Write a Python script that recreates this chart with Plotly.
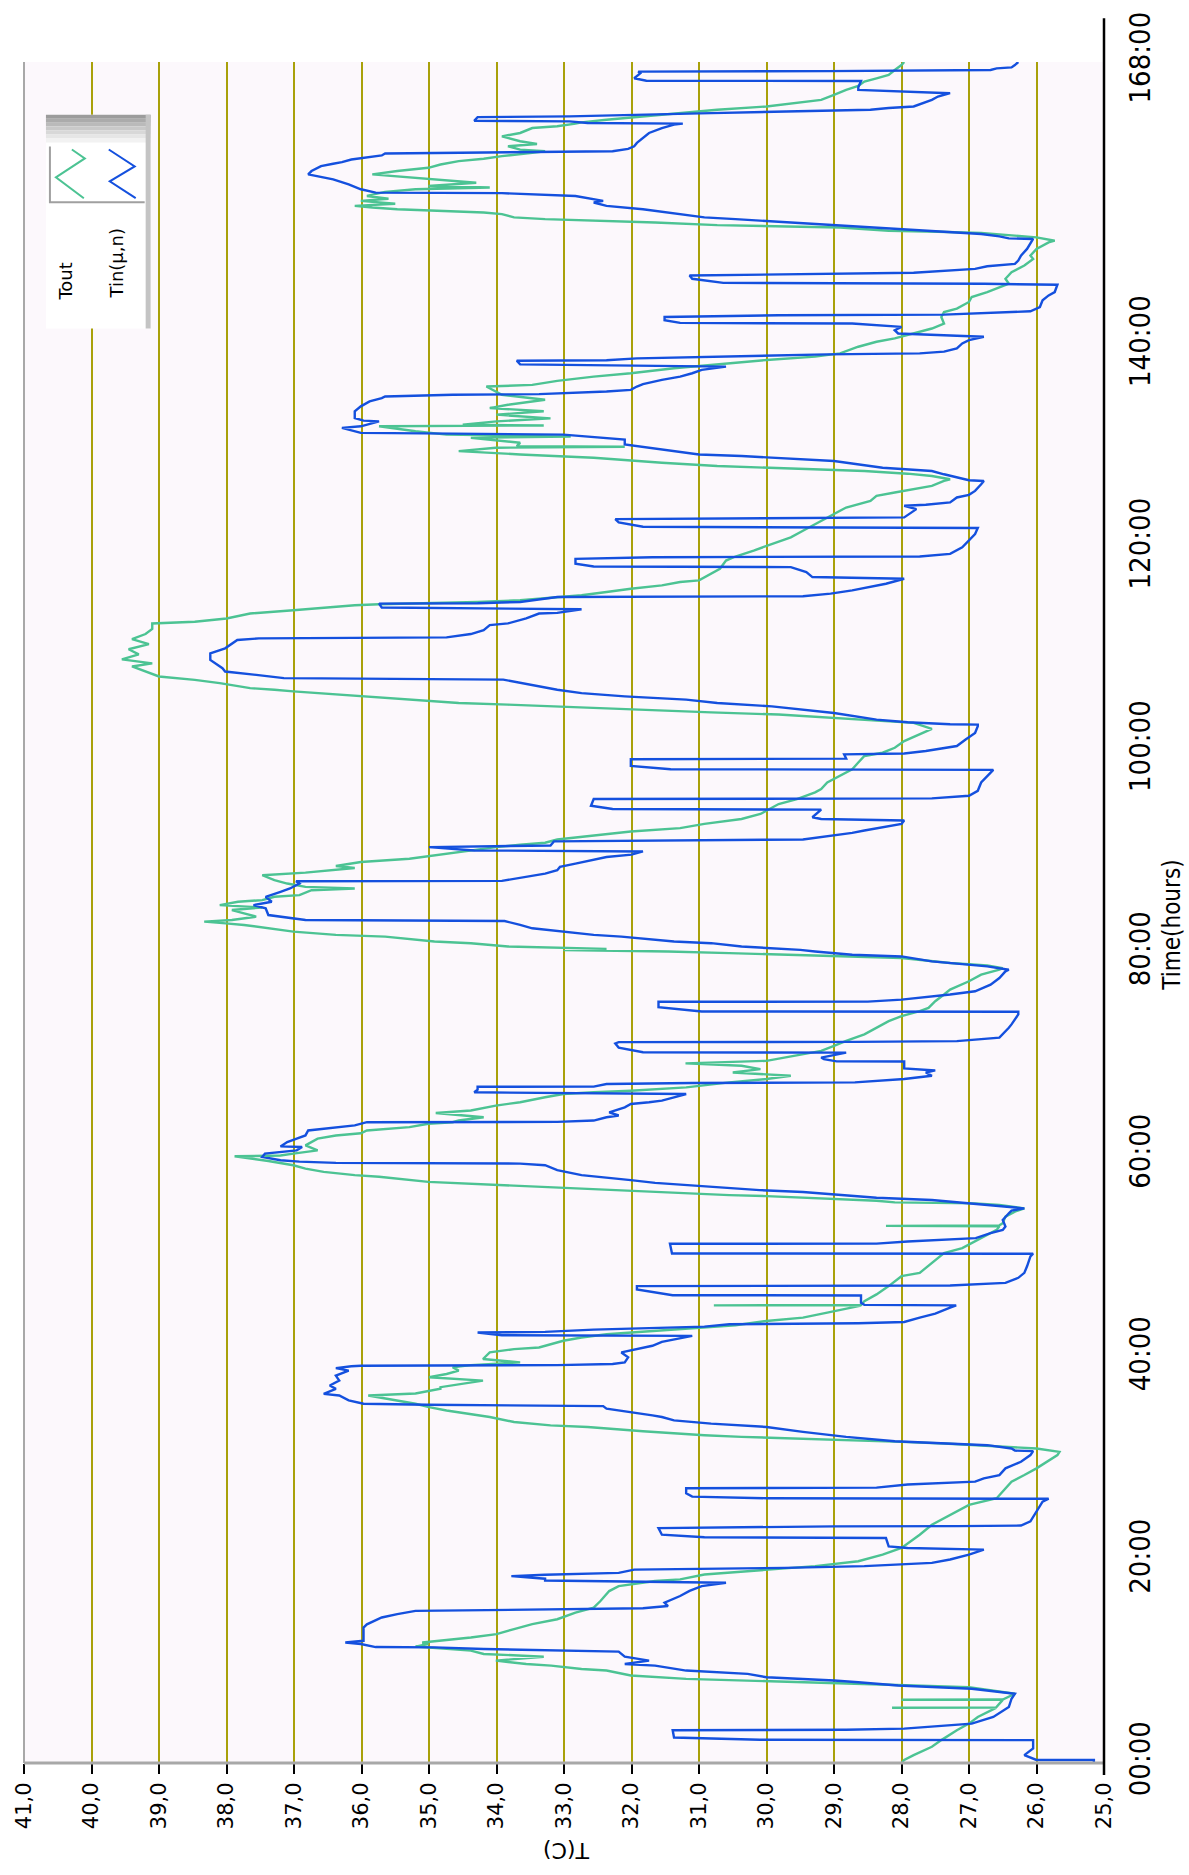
import plotly.graph_objects as go

# ---- Tout (outdoor temperature) ----
tout_hours = [
    0.0, 0.29, 0.78, 1.6, 2.26, 3.24, 3.89, 4.55, 5.44, 5.46, 5.48, 6.23, 6.25, 6.27, 6.84, 7.17, 7.49, 7.66,
    7.82, 7.98, 8.15, 8.31, 8.64, 9.13, 9.29, 9.62, 9.78, 10.11, 10.5, 10.77, 11.1, 11.5, 11.75, 11.9, 12.4,
    12.73, 13.22, 13.71, 14.2, 14.86, 15.35, 16.0, 16.98, 17.47, 17.97, 18.13, 18.62, 19.11, 19.44, 19.93,
    20.58, 21.24, 22.55, 23.53, 24.51, 25.49,
    26.15, 27.13, 27.79, 28.44, 29.1, 30.41, 30.73, 31.06, 31.39, 31.55, 31.72, 31.88, 32.04, 32.21, 32.37,
    32.53, 32.76, 33.19, 33.35, 33.68, 34.17, 34.82, 35.15, 35.48, 36.3, 36.5, 36.97, 37.12, 37.45, 37.77,
    38.1, 38.42, 38.75, 39.08, 39.3, 39.57, 39.9, 40.55, 40.88, 41.04, 41.7, 42.02, 42.35, 42.52, 43.0,
    43.24, 43.66, 43.99, 44.48, 44.97, 45.18, 45.2, 45.22, 45.62, 46.28, 47.1, 47.59, 48.08, 48.41, 48.9,
    49.39, 49.88, 50.37,
    50.86, 51.51, 52.16, 52.65, 53.0, 53.05, 53.1, 53.31, 53.96, 54.46, 54.78, 55.11, 55.27, 55.37, 55.53,
    55.76, 55.99, 56.09, 56.39, 56.58, 56.91, 57.07, 57.4, 57.9, 58.06, 58.38, 58.71, 59.04, 59.46, 59.92,
    60.0, 60.18, 60.51, 61.0, 61.66, 61.98, 62.2, 62.47, 62.8, 63.13, 63.29, 63.46, 63.78, 64.2, 64.44,
    64.93, 65.26, 65.75, 66.07, 66.24, 66.4, 66.73, 67.22, 67.55, 67.88, 68.2, 68.53, 68.86, 69.1, 69.35,
    70.0, 70.33, 70.82, 71.31, 71.96, 72.62, 73.27, 73.76, 74.26, 74.58,
    75.24, 75.9, 76.39, 77.21, 77.86, 78.35, 78.51, 78.78, 79.01, 79.5, 79.66, 79.82, 79.99, 80.15, 80.3,
    80.41, 80.54, 80.64, 80.97, 81.13, 81.62, 81.79, 82.11, 82.44, 82.77, 82.93, 83.1, 83.26, 83.59, 83.91,
    84.24, 84.5, 84.67, 84.73, 85.06, 85.22, 85.55, 85.71, 86.2, 86.37, 86.53, 86.86, 87.19, 87.68, 87.94,
    88.17, 88.4, 88.59, 88.99, 89.31, 89.64, 89.97, 90.46, 90.69, 90.89, 91.21, 91.61, 92.0, 92.33, 92.75,
    93.24, 93.73, 94.71, 95.2, 95.86, 96.19, 96.84, 97.5, 98.15, 98.81, 99.46,
    99.78, 100.27, 100.93, 101.58, 102.14, 102.73, 102.89, 103.22, 103.55, 103.77, 103.97, 104.2, 104.36,
    104.53, 104.69, 104.85, 105.18, 105.35, 105.67, 105.84, 106.0, 106.16, 106.65, 106.98, 107.31, 107.8,
    108.3, 108.6, 109.0, 109.5, 110.0, 110.5, 111.0, 111.5, 112.0, 112.55, 112.71, 113.04, 113.53, 113.85,
    114.18, 114.35, 114.44, 114.57, 114.67, 114.84, 115.1, 115.33, 115.65, 115.98, 116.31, 116.64, 116.8,
    117.45, 117.95, 118.76, 119.16, 119.75, 120.4, 121.05, 121.71, 122.69, 123.35, 124.0,
    124.66, 125.15, 125.48, 125.8, 126.13, 126.62, 126.79, 127.11, 127.34, 127.6, 127.77, 128.1, 128.42,
    128.59, 128.91, 129.24, 129.57, 129.9, 130.0, 130.06, 130.39, 130.88, 131.0, 131.2, 131.53, 132.02,
    132.1, 132.19, 132.51, 132.8, 133.17, 133.5, 133.82, 134.15, 134.48, 134.64, 135.13, 135.46, 135.95,
    136.11, 136.51, 136.93, 137.26, 137.75, 138.08, 138.57, 138.9, 139.22, 139.88, 140.37, 140.7, 141.19,
    141.68, 142.17, 142.82, 143.31, 143.64, 144.3, 144.79, 145.28, 145.77, 146.1, 146.59, 147.24, 147.9,
    148.55,
    148.88, 149.54, 150.19, 150.35, 150.68, 150.85, 151.11, 151.24, 151.34, 151.66, 151.76, 151.89, 152.15,
    152.32, 152.48, 152.65, 152.97, 153.14, 153.3, 153.46, 153.63, 153.79, 154.0, 154.28, 154.5, 154.77,
    155.17, 155.43, 155.6, 155.75, 156.08, 156.41, 156.57, 156.8, 156.9, 157.23, 157.55, 157.88, 158.21,
    158.44, 158.7, 159.03, 159.19, 159.35, 159.68, 159.9, 160.17, 160.66, 160.99, 161.48, 161.65, 161.91,
    162.04, 162.3, 162.63, 162.95, 163.28, 163.61, 163.94, 164.26, 164.75, 165.25, 165.64, 166.06, 166.39,
    166.72, 167.21, 167.7, 168.0,
]
tout_temp = [
    28.0, 27.96, 27.82, 27.55, 27.41, 27.18, 27.0, 26.87, 26.6, 28.14, 26.6, 26.5, 28.0, 26.5, 26.32, 26.64,
    27.0, 27.82, 28.64, 29.55, 30.37, 31.19, 32.01, 32.37, 32.74, 33.19, 33.56, 34.01, 33.3, 34.19, 34.38,
    35.2, 35.01, 35.1, 34.38, 34.0, 33.74, 33.47, 33.1, 32.83, 32.56, 32.46, 32.33, 32.19, 31.65, 31.28,
    30.92, 30.0, 29.28, 28.64, 28.28, 28.0, 27.73, 27.55, 27.28, 27.0,
    26.59, 26.46, 26.37, 26.18, 26.0, 25.69, 25.66, 26.0, 26.82, 27.37, 28.0, 28.82, 29.55, 30.37, 30.92,
    31.37, 31.83, 32.65, 33.2, 33.74, 34.1, 34.74, 35.0, 35.2, 35.9, 35.2, 34.83, 34.83, 34.47, 34.2, 35.0,
    34.74, 34.56, 34.65, 34.38, 33.65, 34.2, 34.1, 33.74, 33.37, 33.01, 32.74, 32.37, 32.01, 30.92, 30.46,
    30.0, 29.46, 29.1, 28.73, 28.6, 30.78, 28.6, 28.55, 28.37, 28.19, 28.1, 28.0, 27.73, 27.64, 27.55,
    27.46, 27.37,
    27.1, 26.91, 26.73, 26.59, 26.55, 28.23, 26.55, 26.5, 26.46, 26.32, 26.18, 26.55, 26.91, 28.1, 28.37,
    29.1, 30.0, 30.55, 31.55, 32.37, 33.47, 33.83, 35.01, 35.74, 36.1, 36.56, 36.83, 37.01, 37.38, 37.88,
    37.2, 37.01, 36.65, 36.83, 36.65, 36.38, 36.01, 35.92, 35.29, 35.01, 34.65, 34.56, 34.19, 34.9, 34.38,
    34.01, 33.65, 33.28, 33.01, 32.56, 32.01, 31.19, 30.55, 30.0, 29.64, 30.5, 30.09, 30.37, 31.2, 30.0,
    29.46, 29.19, 29.0, 28.82, 28.55, 28.37, 28.19, 28.0, 27.73, 27.6,
    27.5, 27.37, 27.28, 27.0, 26.82, 26.55, 26.5, 26.73, 27.28, 28.0, 28.73, 29.64, 30.55, 31.46, 33.01,
    32.37, 33.01, 33.83, 34.38, 34.92, 35.65, 36.38, 37.01, 37.38, 37.74, 38.01, 38.33, 37.92, 37.56, 37.74,
    37.92, 37.47, 38.01, 38.1, 37.83, 37.47, 37.29, 36.92, 36.74, 36.1, 36.83, 37.1, 37.29, 37.47, 36.83,
    36.47, 36.1, 36.38, 36.01, 35.29, 34.92, 34.56, 34.01, 33.65, 33.28, 33.1, 32.56, 32.01, 31.28, 30.92,
    30.37, 30.09, 29.82, 29.55, 29.28, 29.19, 29.1, 28.91, 28.73, 28.64, 28.55,
    28.28, 28.1, 27.96, 27.73, 27.55, 27.82, 28.19, 29.1, 29.82, 30.82, 31.55, 32.37, 33.19,
    33.83, 34.56, 34.92, 35.65, 36.01, 36.65, 37.01, 37.29, 37.65, 38.1, 38.47, 39.0, 39.2,
    39.4, 39.1, 39.55, 39.3, 39.45, 39.15, 39.4, 39.2, 39.1, 39.1, 38.47, 38.0, 37.65, 37.01,
    36.47, 36.1, 35.74, 34.56, 34.28, 33.65, 33.19, 32.74, 32.37, 32.01, 31.55, 31.28, 31.0,
    30.82, 30.69, 30.6, 30.46, 30.19, 29.92, 29.64, 29.46, 29.19, 29.0, 28.82,
    28.46, 28.37, 28.1, 27.82, 27.55, 27.37, 27.28, 27.55, 27.91, 28.55, 29.28, 30.73, 31.55,
    31.87, 32.56, 33.65, 34.56, 34.01, 32.1, 33.7, 33.65, 34.38, 32.9, 34.74, 35.2, 35.74,
    33.3, 34.5, 34.0, 33.2, 34.0, 33.3, 34.1, 33.83, 33.47, 33.28, 33.92, 34.01, 34.15,
    33.47, 33.1, 32.56, 32.01, 31.37, 30.82, 30.0, 29.28, 28.91, 28.64, 28.37, 28.1, 27.82,
    27.55, 27.37, 27.41, 27.37, 27.18, 27.0, 26.96, 26.73, 26.55, 26.41, 26.46, 26.37, 26.18,
    26.05,
    26.09, 26.0, 25.82, 25.73, 26.0, 26.37, 26.82, 27.46, 28.19, 28.91, 29.73, 30.73, 31.65,
    32.56, 33.28, 33.74, 33.92, 34.19, 34.83, 35.47, 35.84, 36.1, 35.5, 36.01, 35.6, 35.92,
    35.65, 35.2, 34.1, 35.01, 34.3, 34.92, 35.2, 35.56, 35.84, 35.47, 35.01, 34.83, 34.56,
    34.19, 33.92, 33.47, 33.28, 33.65, 33.83, 33.4, 33.65, 33.92, 33.65, 33.47, 33.1, 32.83,
    32.74, 32.37, 31.83, 31.28, 30.73, 30.0, 29.55, 29.19, 29.0, 28.82, 28.64, 28.55, 28.37,
    28.19, 28.1, 28.0, 27.96,
]

# ---- Tin(μ,n) (indoor temperature) ----
tin_hours = [
    0.0, 0.29, 0.3, 0.78, 1.44, 2.26, 2.3, 2.52, 3.24, 3.28, 3.40, 3.89, 4.55, 5.53, 6.35, 6.84, 7.33, 7.66,
    7.98, 8.15, 8.47, 8.8, 9.13, 9.62, 9.78, 10.11, 10.5, 10.77, 11.0, 11.26, 11.42, 11.45, 11.75, 11.9,
    12.07, 12.4, 13.38, 13.7, 14.37, 14.7, 15.02, 15.28, 15.5, 15.84, 16.49, 17.0, 17.47, 17.8, 18.03, 18.2,
    18.46, 18.6, 18.78, 19.1, 19.27, 19.44, 19.77, 20.1, 20.58, 21.07, 21.24, 21.4, 22.22, 22.29, 22.55,
    23.2, 23.37, 23.4, 23.45, 23.86, 24.84, 25.82,
    26.1, 26.15, 26.31, 26.64, 27.13, 27.2, 27.5, 27.79, 28.12, 28.44, 29.1, 29.75, 30.41, 30.8, 30.85,
    31.06, 31.39, 31.55, 31.78, 32.21, 32.7, 33.19, 33.52, 33.84, 34.17, 34.33, 34.66, 34.99, 35.25, 35.3,
    35.38, 35.48, 35.81, 36.3, 36.46, 36.95, 37.28, 37.77, 38.26, 38.75, 39.0, 39.18, 39.24, 39.3, 39.41,
    39.57, 40.06, 40.55, 40.88, 41.21, 41.6, 41.86, 42.19, 42.25, 42.52, 42.58, 42.8, 43.1, 43.33, 43.43,
    43.56, 43.99, 44.38, 44.97, 45.2, 45.25, 45.46, 46.18, 46.2, 46.77, 47.1, 47.16, 47.42, 47.92, 48.41,
    49.06, 50.04, 50.3,
    50.32, 51.28, 51.3, 51.5, 51.84, 52.33, 52.65, 52.98, 53.64, 54.29, 54.55, 54.78, 55.11, 55.34, 55.6,
    55.83, 56.09, 56.39, 56.58, 56.81, 57.07, 57.3, 57.57, 57.83, 58.06, 58.55, 59.04, 59.2, 59.27, 59.4,
    59.53, 59.86, 60.18, 60.51, 60.84, 60.9, 61.33, 61.66, 61.98, 62.47, 62.64, 62.97, 63.29, 63.32, 63.45,
    63.78, 63.95, 64.27, 64.76, 65.09, 65.26, 65.42, 66.07, 66.24, 66.5, 66.79, 66.8, 67.06, 67.16, 67.22,
    67.55, 67.88, 68.2, 68.4, 68.6, 69.28, 69.3, 69.51, 69.67, 70.16, 70.2, 70.66, 71.07, 71.2, 71.22,
    71.3, 71.64, 71.96, 72.62, 72.95, 73.93, 74.2,
    74.22, 74.65, 75.18, 75.2, 75.4, 75.9, 76.22, 76.88, 77.53, 78.19, 78.35, 78.68, 78.84, 79.17, 79.66,
    79.82, 80.15, 80.31, 80.64, 80.97, 81.13, 81.46, 81.62, 81.79, 82.11, 82.44, 82.77, 83.16, 83.26,
    83.42, 83.75, 84.41, 84.73, 85.06, 85.55, 86.04, 86.37, 86.86, 87.09, 87.12, 87.42, 87.84, 88.17,
    88.5, 88.82, 89.48, 89.71, 90.03, 90.13, 90.46, 90.62, 91.02, 91.21, 91.51, 91.87, 92.1, 92.75, 93.08,
    93.24, 93.41, 93.9, 94.16, 94.22, 94.55, 95.21, 95.27, 95.53, 96.02, 96.84, 97.43, 98.09, 98.15, 98.48,
    99.13, 99.2,
    99.62, 99.7, 99.95, 100.44, 101.09, 101.74, 102.4, 102.56, 102.6, 102.79, 103.05, 103.71, 104.36,
    104.69, 105.02, 105.35, 105.67, 106.0, 107.0, 107.15, 107.47, 107.8, 108.13, 108.95, 109.6, 110.09,
    110.91, 111.07, 111.17, 111.5, 111.89, 112.38, 112.55, 113.04, 113.53, 113.59, 113.95, 114.12, 114.51,
    114.55, 114.67, 115.16, 115.23, 115.49, 115.82, 116.15, 116.47, 116.96, 117.13, 117.62, 118.11,
    118.17, 118.44, 118.93, 119.09, 119.16, 119.42, 120.07, 121.38, 121.97, 122.1, 122.53, 122.85, 123.02,
    123.84,
    124.17, 124.27, 124.5, 124.99, 125.25, 125.64, 126.3, 126.62, 126.69, 126.95, 127.28, 127.6, 127.77,
    127.93, 128.59, 128.75, 128.91, 129.08, 129.24, 129.73, 130.22, 130.71, 131.2, 131.3, 131.37, 131.86,
    132.02, 132.51, 132.58, 132.84, 133.5, 133.99, 134.48, 134.8, 134.97, 135.13, 135.2, 135.46, 135.62,
    135.95, 136.18, 136.6, 136.93, 137.26, 137.59, 137.91, 138.14, 138.5, 138.55, 138.73, 138.9, 139.12,
    139.22, 139.39, 139.71, 140.2, 140.53, 140.86, 140.96, 141.19, 141.51, 141.84, 142.17, 142.23, 142.5,
    142.82, 142.99, 143.05, 143.38, 143.8, 144.46, 144.95, 145.28, 146.0, 146.1, 146.19, 146.59, 146.91,
    147.18, 147.57, 147.83, 148.06, 148.39,
    148.88, 149.54, 150.52, 150.58, 150.78, 151.01, 151.24, 151.5, 151.83, 152.15, 152.48, 152.65, 153.46,
    153.79, 154.12, 154.28, 154.77, 155.05, 155.1, 155.43, 155.92, 156.41, 156.74, 156.9, 157.23, 157.72,
    157.95, 158.11, 158.37, 158.77, 158.96, 159.09, 159.19, 159.42, 159.68, 160.01, 160.5, 160.99, 161.48,
    161.81, 161.91, 161.97, 162.14, 162.2, 162.56, 162.63, 162.95, 163.28, 163.45, 163.61, 164.26, 164.59,
    164.92, 165.08, 165.25, 165.51, 166.13, 166.15, 166.39, 166.88, 167.05, 167.1, 167.21, 167.37, 167.47,
    167.7, 168.0,
]
tin_temp = [
    25.15, 25.15, 26.0, 26.18, 26.05, 26.05, 30.1, 31.37, 31.39, 28.82, 27.96, 26.96, 26.64, 26.41, 26.37,
    26.32, 26.96, 28.05, 28.64, 29.0, 30.0, 30.28, 31.19, 31.65, 32.1, 31.74, 32.1, 32.15, 32.19, 34.19,
    34.92, 35.79, 36.01, 36.24, 35.97, 35.97, 35.97, 35.92, 35.7, 35.47, 35.2, 31.83, 31.46, 31.51, 31.28,
    31.14, 30.96, 30.6, 33.28, 33.28, 33.78, 33.28, 32.19, 31.96, 29.73, 28.55, 27.55, 27.28, 27.0, 26.78,
    27.91, 28.19, 28.23, 30.92, 31.55, 31.6, 29.0, 27.18, 26.23, 26.09, 26.0, 25.91,
    25.82, 30.0, 31.1, 31.19, 31.19, 28.37, 27.91, 26.91, 26.78, 26.55, 26.46, 26.23, 26.09, 26.05, 26.32,
    26.37, 26.73, 27.28, 28.1, 28.82, 29.46, 30.0, 30.82, 31.37, 31.55, 31.69, 32.01, 32.37, 32.42, 34.47,
    35.03, 35.97, 36.19, 36.33, 36.56, 36.38, 36.47, 36.33, 36.38, 36.19, 36.38, 36.15, 36.01, 33.1, 32.28,
    32.1, 32.05, 32.15, 31.92, 31.69, 31.55, 31.37, 31.1, 33.92, 34.28, 33.28, 32.56, 30.92, 30.55, 28.64,
    27.96, 27.73, 27.5, 27.28, 27.19, 28.55, 28.6, 28.6, 31.39, 31.92, 31.92, 27.28, 26.46, 26.27, 26.18,
    26.14, 26.09, 26.05,
    31.4, 31.43, 28.37, 27.91, 26.9, 26.68, 26.5, 26.46, 26.5, 26.41, 26.37, 26.18, 26.73, 27.18, 27.55,
    28.37, 28.9, 29.46, 30.1, 30.55, 31.1, 31.65, 32.01, 32.37, 32.74, 33.1, 33.28, 33.65, 36.38, 36.92,
    37.2, 37.47, 37.43, 36.96, 36.88, 37.2, 37.1, 36.96, 36.83, 36.79, 36.56, 36.1, 35.92, 33.1, 32.56,
    32.37, 32.19, 32.33, 32.1, 32.01, 31.74, 31.55, 31.19, 34.33, 34.28, 34.28, 32.56, 32.37, 31.1, 28.69,
    27.96, 27.55, 27.64, 27.5, 27.96, 27.96, 28.96, 29.15, 29.19, 28.82, 31.83, 32.19, 32.24, 32.19, 28.69,
    27.18, 26.55, 26.5, 26.41, 26.37, 26.27, 26.27,
    30.96, 31.6, 31.6, 28.5, 28.0, 27.28, 26.91, 26.68, 26.55, 26.46, 26.41, 26.73, 27.0, 27.55, 28.0,
    28.73, 29.28, 29.5, 30.37, 30.82, 31.37, 31.83, 32.15, 32.56, 33.01, 33.47, 33.65, 33.88, 36.83,
    37.0, 37.38, 37.42, 37.6, 37.33, 37.42, 37.2, 37.06, 36.92, 36.97, 33.92, 33.65, 33.28, 33.1,
    33.06, 32.83, 32.37, 32.0, 31.83, 34.33, 35.0, 33.2, 33.15, 29.46, 29.1, 28.73, 28.55, 28.0, 27.96,
    29.19, 29.32, 29.23, 29.19, 32.28, 32.6, 32.56, 27.55, 27.0, 26.87, 26.82, 26.73, 26.64, 31.42, 32.01,
    32.01, 28.82,
    28.85, 27.96, 27.64, 27.18, 27.05, 26.91, 26.87, 26.87, 27.28, 27.91, 28.37, 29.0, 29.92,
    30.73, 31.19, 32.1, 32.74, 33.1, 33.9, 37.15, 37.56, 38.02, 38.06, 38.24, 38.24, 38.02,
    37.84, 37.52, 34.74, 34.38, 34.19, 34.1, 33.83, 33.56, 33.37, 33.1, 32.74, 35.7, 35.74,
    34.28, 33.65, 33.1, 29.46, 29.05, 28.73, 28.46, 28.23, 27.96, 29.32, 29.41, 29.64,
    32.56, 32.83, 32.83, 31.69, 27.73, 27.28, 27.1, 26.91, 26.87, 31.83, 32.19, 32.24, 27.96,
    27.78,
    27.96, 27.64, 27.28, 27.18, 27.0, 26.91, 26.82, 26.78, 27.0, 27.18, 27.37, 27.55, 28.0,
    28.28, 29.0, 29.46, 29.82, 30.37, 31.0, 31.55, 32.1, 32.1, 33.01, 34.65, 36.01, 36.29,
    36.01, 35.74, 35.97, 36.1, 36.1, 36.01, 35.88, 35.7, 35.65, 34.65, 33.37, 32.37, 32.01,
    31.92, 31.83, 31.55, 31.28, 31.1, 30.96, 30.6, 33.65, 33.7, 32.37, 31.92, 30.82, 29.1,
    27.73, 27.37, 27.18, 27.1, 27.0, 26.78, 27.18, 28.05, 28.1, 28.0, 28.73, 31.28, 31.51,
    31.51, 29.82, 27.37, 26.09, 25.95, 25.91, 25.82, 25.73, 25.69, 26.78, 30.64, 31.1, 31.14,
    27.82, 26.91, 26.73, 26.32, 26.27,
    26.23, 26.14, 26.05, 26.41, 26.55, 26.82, 27.37, 28.1, 28.91, 29.55, 30.46, 30.92, 31.83,
    32.37, 32.56, 32.42, 32.83, 33.92, 35.79, 36.01, 36.19, 36.42, 36.65, 36.79, 36.74, 36.6,
    36.42, 36.29, 36.15, 35.7, 35.65, 34.1, 32.28, 32.05, 31.96, 31.92, 31.83, 31.74, 31.55,
    31.37, 31.24, 32.65, 32.92, 34.33, 34.28, 32.92, 30.82, 28.46, 28.19, 27.82, 27.55, 27.46,
    27.28, 27.91, 28.64, 28.64, 28.6, 31.78, 31.96, 31.87, 31.9, 29.1, 26.68, 26.59, 26.37,
    26.32, 26.27,
]

# ---- axis labels ----
temp_ticks = list(range(25, 42))
temp_tick_text = [f"{v},0" for v in temp_ticks]
hour_ticks = [0, 20, 40, 60, 80, 100, 120, 140, 168]
hour_tick_text = ["00:00", "20:00", "40:00", "60:00", "80:00", "100:00", "120:00", "140:00", "168:00"]

series_names = ["Tout", "Tin(\u03bc,n)"]
series_colors = ["#4CC393", "#1450DE"]

NARROW = "Liberation Sans Narrow, DejaVu Sans Condensed"

# ---- page geometry (pixels) ----
W, H = 1189, 1875
L, R, T, B = 21, 1104, 52, 1763  # plot area edges


def px(x):
    return (x - L) / (R - L)


def py(y):
    return (B - y) / (B - T)


fig = go.Figure()
fig.add_trace(go.Scatter(x=tout_temp, y=tout_hours, mode="lines", name=series_names[0],
                         line=dict(color=series_colors[0], width=2.4), showlegend=False))
fig.add_trace(go.Scatter(x=tin_temp, y=tin_hours, mode="lines", name=series_names[1],
                         line=dict(color=series_colors[1], width=2.4), showlegend=False))

shapes = []
# axis frame lines
shapes.append(dict(type="line", xref="paper", yref="paper", x0=px(L), x1=px(L), y0=py(T), y1=py(B),
                   line=dict(color="#A8A8A8", width=2)))
shapes.append(dict(type="line", xref="paper", yref="paper", x0=px(L), x1=px(R), y0=py(B), y1=py(B),
                   line=dict(color="#A8A8A8", width=3)))
shapes.append(dict(type="line", xref="paper", yref="paper", x0=px(R), x1=px(R), y0=py(8), y1=py(1775),
                   line=dict(color="#000000", width=2.5)))

# legend box (rotated layout)
LX0, LX1, LY0, LY1 = 43, 148, 105, 320
shapes.append(dict(type="rect", xref="paper", yref="paper", x0=px(LX0), x1=px(LX1), y0=py(LY0), y1=py(LY1),
                   fillcolor="#FFFFFF", line=dict(width=0)))
header = ["#9C9C9C", "#ABABAB", "#BABABA", "#C9C9C9", "#D8D8D8", "#E6E6E6", "#F2F2F2"]
step = 28 / len(header)
for i, c in enumerate(header):
    shapes.append(dict(type="rect", xref="paper", yref="paper", x0=px(LX0), x1=px(LX1),
                       y0=py(LY0 + i * step), y1=py(LY0 + (i + 1) * step), fillcolor=c, line=dict(width=0)))
shapes.append(dict(type="rect", xref="paper", yref="paper", x0=px(LX1 - 5), x1=px(LX1), y0=py(LY0), y1=py(LY1),
                   fillcolor="#C4C4C4", line=dict(width=0)))
shapes.append(dict(type="path", xref="paper", yref="paper",
                   path=f"M {px(47)},{py(137)} L {px(47)},{py(193)} L {px(142)},{py(193)}",
                   line=dict(color="#A0A0A0", width=2)))


def zigzag(points, color):
    d = "M " + " L ".join(f"{px(x)},{py(y)}" for x, y in points)
    return dict(type="path", xref="paper", yref="paper", path=d, line=dict(color=color, width=2))


shapes.append(zigzag([(69, 140), (82, 149), (53, 168), (81, 189)], series_colors[0]))
shapes.append(zigzag([(106, 140), (132, 157), (107, 172), (133, 189)], series_colors[1]))

annotations = [
    dict(text=series_names[0], xref="paper", yref="paper", x=px(63), y=py(273), showarrow=False,
         textangle=-90, font=dict(family="DejaVu Sans", size=18, color="#000000"),
         xanchor="center", yanchor="middle"),
    dict(text=series_names[1], xref="paper", yref="paper", x=px(114), y=py(255), showarrow=False,
         textangle=-90, font=dict(family="DejaVu Sans", size=18, color="#000000"),
         xanchor="center", yanchor="middle"),
    dict(text="T(C)", xref="paper", yref="paper", x=px(565), y=py(1851), showarrow=False,
         textangle=180, font=dict(family="DejaVu Sans", size=22, color="#000000"),
         xanchor="center", yanchor="middle"),
    dict(text="Time(hours)", xref="paper", yref="paper", x=px(1172), y=py(920), showarrow=False,
         textangle=-90, font=dict(family=NARROW, size=24, color="#000000"),
         xanchor="center", yanchor="middle"),
]

fig.update_layout(
    width=W, height=H, autosize=False,
    margin=dict(l=L, r=W - R, t=T, b=H - B, pad=0),
    paper_bgcolor="#FFFFFF", plot_bgcolor="#FCF8FC",
    shapes=shapes, annotations=annotations,
    showlegend=False,
    xaxis=dict(range=[41, 25], tickvals=temp_ticks, ticktext=temp_tick_text, tickangle=-90,
               showgrid=True, gridcolor="#A9A10A", gridwidth=2, zeroline=False,
               ticks="outside", ticklen=10, tickwidth=2, tickcolor="#000000",
               tickfont=dict(family="DejaVu Sans", size=21, color="#000000"), showline=False),
    yaxis=dict(range=[0, 168], tickvals=hour_ticks, ticktext=hour_tick_text, tickangle=-90, side="right",
               showgrid=False, zeroline=False, ticks="", showline=False, ticklabelstandoff=16,
               tickfont=dict(family=NARROW, size=29, color="#000000")),
)

fig.write_html("out.html")
